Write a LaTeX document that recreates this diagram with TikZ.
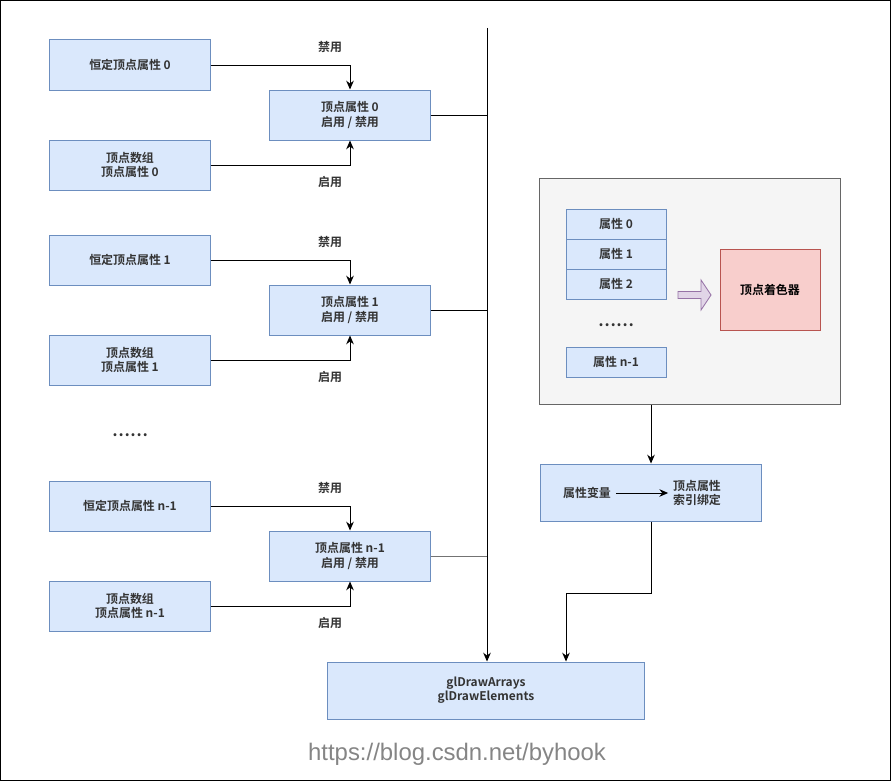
\documentclass[tikz,border=0pt]{standalone}
\usepackage{fontspec}
\setmainfont{Noto Sans CJK SC}[BoldFont={* Bold}]
\newfontfamily\urlfont{Liberation Sans}
\usepackage{xcolor}
\definecolor{boxBlue}{HTML}{DAE8FC}
\definecolor{boxEdge}{HTML}{6C8EBF}
\definecolor{panelGray}{HTML}{F5F5F5}
\definecolor{panelEdge}{HTML}{666666}
\definecolor{shaderRed}{HTML}{F8CECC}
\definecolor{shaderEdge}{HTML}{B85450}
\definecolor{arrowLilac}{HTML}{E1D5E7}
\definecolor{arrowEdge}{HTML}{9673A6}
\definecolor{textGray}{HTML}{333333}
\definecolor{markGray}{HTML}{858585}
\usepackage{tikz}
\usetikzlibrary{positioning,calc,arrows.meta}

\begin{document}
\begin{tikzpicture}[x=0.025cm,y=-0.025cm,
                attrbox/.style={draw=boxEdge,fill=boxBlue,line width=0.7pt,minimum width=4cm,minimum height=1.25cm,
                             font=\bfseries\fontsize{8.5}{10}\selectfont,align=center,text=textGray},
                slotbox/.style={attrbox,minimum width=2.5cm,minimum height=0.75cm},
                lbl/.style={font=\bfseries\fontsize{8.5}{10}\selectfont,text=textGray,align=left},
                link/.style={-{Stealth[length=2.2mm,width=1.9mm]},line width=0.7pt}
            ]
                \useasboundingbox (0,0) rectangle (891,781);
                \draw[line width=1pt] (0.5,0.5) rectangle (890.5,780.5);

                % attribute 0
                \node[attrbox] (const0) at (130,65) {恒定顶点属性 0};
                \node[attrbox] (vattr0) at (350,115) {顶点属性 0\\启用 / 禁用};
                \node[attrbox] (array0) at (130,165) {顶点数组\\顶点属性 0};
                \node[lbl] (off0) at (330,47) {禁用};
                \node[lbl] (on0) at (330,182) {启用};
                \draw[link] (const0.east) -| (vattr0.north);
                \draw[link] (array0.east) -| (vattr0.south);

                % attribute 1
                \node[attrbox] (const1) at (130,260) {恒定顶点属性 1};
                \node[attrbox] (vattr1) at (350,310) {顶点属性 1\\启用 / 禁用};
                \node[attrbox] (array1) at (130,360) {顶点数组\\顶点属性 1};
                \node[lbl] (off1) at (330,242) {禁用};
                \node[lbl] (on1) at (330,377) {启用};
                \draw[link] (const1.east) -| (vattr1.north);
                \draw[link] (array1.east) -| (vattr1.south);

                \node[lbl,font=\bfseries\fontsize{11.5}{12}\selectfont] (moreleft) at (130,435) {……};

                % attribute n-1
                \node[attrbox] (constn) at (130,506) {恒定顶点属性 n-1};
                \node[attrbox] (vattrn) at (350,556) {顶点属性 n-1\\启用 / 禁用};
                \node[attrbox] (arrayn) at (130,606) {顶点数组\\顶点属性 n-1};
                \node[lbl] (offn) at (330,488) {禁用};
                \node[lbl] (onn) at (330,623) {启用};
                \draw[link] (constn.east) -| (vattrn.north);
                \draw[link] (arrayn.east) -| (vattrn.south);

                % draw call
                \node[attrbox,minimum width=7.9cm,minimum height=1.425cm] (gldraw) at (486,690.5) {glDrawArrays\\glDrawElements};
                \coordinate (bustop) at (487,28);
                \draw[link] (bustop) -- (bustop |- gldraw.north);
                \draw[line width=0.7pt] (vattr0.east) -- (vattr0.east -| bustop);
                \draw[line width=0.7pt] (vattr1.east) -- (vattr1.east -| bustop);
                \draw[line width=0.7pt,black!55] (vattrn.east) -- (vattrn.east -| bustop);

                % shader side
                \node[draw=panelEdge,fill=panelGray,line width=0.7pt,minimum width=7.5cm,minimum height=5.625cm] (shaderpanel) at (690,291.5) {};
                \node[slotbox] (slot0) at (616,224) {属性 0};
                \node[slotbox] (slot1) at (616,254) {属性 1};
                \node[slotbox] (slot2) at (616,284) {属性 2};
                \node[lbl,font=\bfseries\fontsize{11.5}{12}\selectfont] (moreright) at (616,325) {……};
                \node[slotbox] (slotn) at (616,362) {属性 n-1};
                \node[draw=shaderEdge,fill=shaderRed,line width=0.7pt,minimum width=2.5cm,minimum height=2cm,
                      font=\bfseries\fontsize{8.5}{10}\selectfont] (shader) at (770,290) {顶点着色器};
                \draw[draw=arrowEdge,fill=arrowLilac,line width=0.6pt]
                    (678,291.5) -- (701,291.5) -- (701,280) -- (711,295) -- (701,310) -- (701,298.5) -- (678,298.5) -- cycle;

                \node[attrbox,minimum width=5.5cm,minimum height=1.425cm] (binding) at (651,492.5) {};
                \node[lbl] (attrvar) at (587,493) {属性变量};
                \node[lbl] (bindidx) at (697,493) {顶点属性\\索引绑定};
                \draw[link] (attrvar.east) -- (bindidx.west);
                \draw[link] (shaderpanel.south -| binding.north) -- (binding.north);
                \coordinate (elbow) at (566,593);
                \draw[link] (binding.south) |- (elbow) -- (elbow |- gldraw.north);

                \node[text=markGray,font=\urlfont\fontsize{17}{19}\selectfont] (mark) at (457,754) {https://blog.csdn.net/byhook};
            \end{tikzpicture}
\end{document}
